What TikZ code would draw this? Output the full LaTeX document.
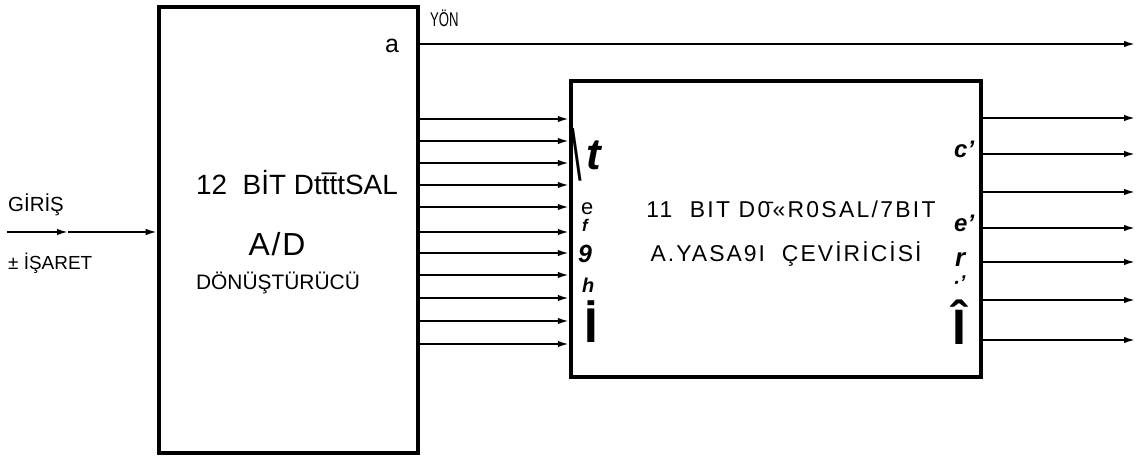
\documentclass[tikz,border=0pt]{standalone}
\usepackage{fontspec}
\setmainfont{Liberation Sans}
\usetikzlibrary{arrows.meta}
\begin{document}
\begin{tikzpicture}[x=1bp,y=-1bp,
  box/.style={draw, line width=4.5bp, inner sep=0pt, rectangle},
  sig/.style={line width=1.8bp, -{Latex[length=11bp,width=6.5bp]}},
  lbl/.style={inner sep=0pt, anchor=base west},
  ctr/.style={inner sep=0pt, anchor=base},
  fs/.style={font=\fontsize{#1}{#1}\selectfont},
  bi/.style={font=\fontsize{#1}{#1}\selectfont\bfseries\itshape}]
\useasboundingbox (0,0) rectangle (1137,458);
% boxes
\node[box, minimum width=259bp, minimum height=446bp] (ad) at (288.5,230) {};
\node[box, minimum width=410bp, minimum height=296bp] (conv) at (776,229) {};
% inputs between boxes
\foreach \y in {119,141,163,185,207,232,253,275,298,321,344}
  \draw[sig] (ad.east |- 0,\y) -- (conv.west |- 0,\y);
% outputs
\foreach \y [count=\i] in {118,154,192,228,262,300,340} {
  \coordinate (o\i) at (1135,\y);
  \draw[sig] (conv.east |- o\i) -- (o\i);
}
% direction output
\coordinate (yon) at (1135,44);
\draw[sig] (ad.east |- yon) -- (yon);
% input
\coordinate (gin) at (7,232);
\coordinate (gmid) at (68,232);
\draw[sig] (gin) -- (gmid);
\draw[sig] (gmid) -- (ad.west |- gin);
% texts left
\node[lbl, fs=20.5] (giris) at (8,212) {GİRİŞ};
\node[lbl, fs=19] (isaret) at (8,270) {± İŞARET};
\node[lbl, fs=25] (la) at (385,53) {a};
\node[lbl, fs=20] (yontxt) at (430,27) {\scalebox{0.66}[1]{YÖN}};
\node[ctr, fs=28] (t1) at (297,195) {12\ \ BİT Dt\={t}\={t}tSAL};
\node[ctr, fs=32] (t2) at (277,256) {\addfontfeatures{LetterSpace=6}A/D};
\node[ctr, fs=21] (t3) at (278,290) {DÖNÜŞTÜRÜCÜ};
% texts right box
\node[ctr, fs=23] (t4) at (791,218) {\addfontfeatures{LetterSpace=10}11\ \ BIT D\={0}«R0SAL/7BIT};
\node[ctr, fs=23] (t5) at (786,262) {\addfontfeatures{LetterSpace=9}A.YASA9I\ \ ÇEVİRİCİSİ};
% left side pin labels
\node[lbl, fs=38] (bs) at (571,181) {\scalebox{1}[1.9]{\textbackslash}};
\node[lbl, bi=44] (lt) at (586,170) {t};
\node[lbl, fs=22] (le) at (581,215) {e};
\node[lbl, bi=17] (lf) at (582,232) {f};
\node[lbl, bi=25] (l9) at (578,263) {9};
\node[lbl, bi=20] (lh) at (582,293) {h};
\node[lbl, font=\fontsize{49}{49}\selectfont\bfseries] (li) at (584,343) {İ};
% right side pin labels
\node[lbl, bi=24] (rc) at (954,158) {c’};
\node[lbl, bi=24] (re) at (954,232) {e’};
\node[lbl, bi=26] (rr) at (955,267) {r};
\node[lbl, bi=20] (rd) at (953,290) {·’};
\node[lbl, font=\fontsize{50}{50}\selectfont\bfseries] (ri) at (952,345) {Î};
\end{tikzpicture}
\end{document}
